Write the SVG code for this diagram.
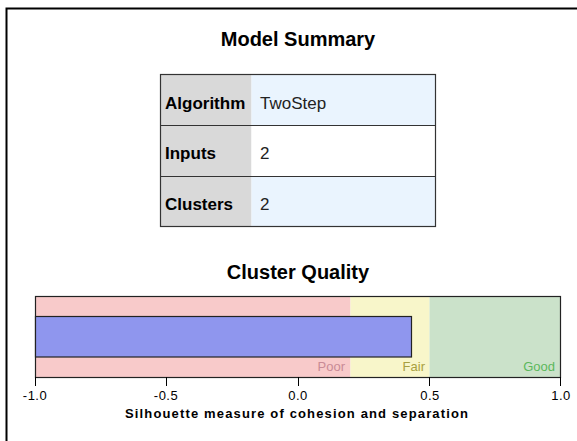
<svg xmlns="http://www.w3.org/2000/svg" width="577" height="441" viewBox="0 0 577 441">
<style>
text{font-family:"Liberation Sans",Arial,sans-serif;}
.title{font-size:20px;font-weight:bold;fill:#000;text-anchor:middle;}
.lab{font-size:17px;font-weight:bold;fill:#000;}
.val{font-size:17px;fill:#222;}
.tick{font-size:13px;fill:#000;text-anchor:middle;letter-spacing:0.5px;}
.zone{font-size:13px;text-anchor:end;}
.cell{stroke:#333;stroke-width:1.2;}
</style>
<rect width="577" height="441" fill="#fff"/>
<path d="M6.5,441 V8.5 H577" fill="none" stroke="#000" stroke-width="2"/>
<text class="title" x="298" y="46">Model Summary</text>
<g id="table">
<rect x="160.5" y="74.5" width="91" height="152" fill="#d9d9d9"/>
<rect x="251.5" y="74.5" width="184" height="51" fill="#eaf4fe"/>
<rect x="251.5" y="125.5" width="184" height="51" fill="#ffffff"/>
<rect x="251.5" y="176.5" width="184" height="50" fill="#eaf4fe"/>
<rect x="160.5" y="74.5" width="275" height="152" fill="none" class="cell"/>
<line x1="160.5" y1="125.5" x2="435.5" y2="125.5" class="cell"/>
<line x1="160.5" y1="176.5" x2="435.5" y2="176.5" class="cell"/>
<text class="lab" x="165" y="109">Algorithm</text>
<text class="val" x="260" y="109">TwoStep</text>
<text class="lab" x="165" y="159">Inputs</text>
<text class="val" x="260" y="159">2</text>
<text class="lab" x="165" y="210">Clusters</text>
<text class="val" x="260" y="210">2</text>
</g>
<text class="title" x="298" y="279">Cluster Quality</text>
<g id="chart">
<rect x="35" y="296" width="315.5" height="81" fill="#f8caca"/>
<rect x="350.5" y="296" width="79" height="81" fill="#f8f6ca"/>
<rect x="429.5" y="296" width="131.5" height="81" fill="#cbe2ca"/>
<rect x="35.5" y="296.5" width="525" height="81" fill="none" stroke="#222" stroke-width="1.2"/>
<rect x="35.5" y="316.5" width="376" height="40.5" fill="#8f96ee" stroke="#222" stroke-width="1.2"/>
<text class="zone" x="345" y="371" fill="#c98a96">Poor</text>
<text class="zone" x="425" y="371" fill="#a8a040">Fair</text>
<text class="zone" x="555" y="371" fill="#5cb85c">Good</text>
<g stroke="#000" stroke-width="1">
<line x1="35.5" y1="377" x2="35.5" y2="386"/>
<line x1="166.5" y1="377" x2="166.5" y2="386"/>
<line x1="298.5" y1="377" x2="298.5" y2="386"/>
<line x1="429.5" y1="377" x2="429.5" y2="386"/>
<line x1="560.5" y1="377" x2="560.5" y2="386"/>
</g>
<text class="tick" x="35" y="400">-1.0</text>
<text class="tick" x="166" y="400">-0.5</text>
<text class="tick" x="298" y="400">0.0</text>
<text class="tick" x="430" y="400">0.5</text>
<text class="tick" x="561" y="400">1.0</text>
<text x="125" y="418" font-size="13" font-weight="bold" textLength="343" lengthAdjust="spacing">Silhouette measure of cohesion and separation</text>
</g>
</svg>
